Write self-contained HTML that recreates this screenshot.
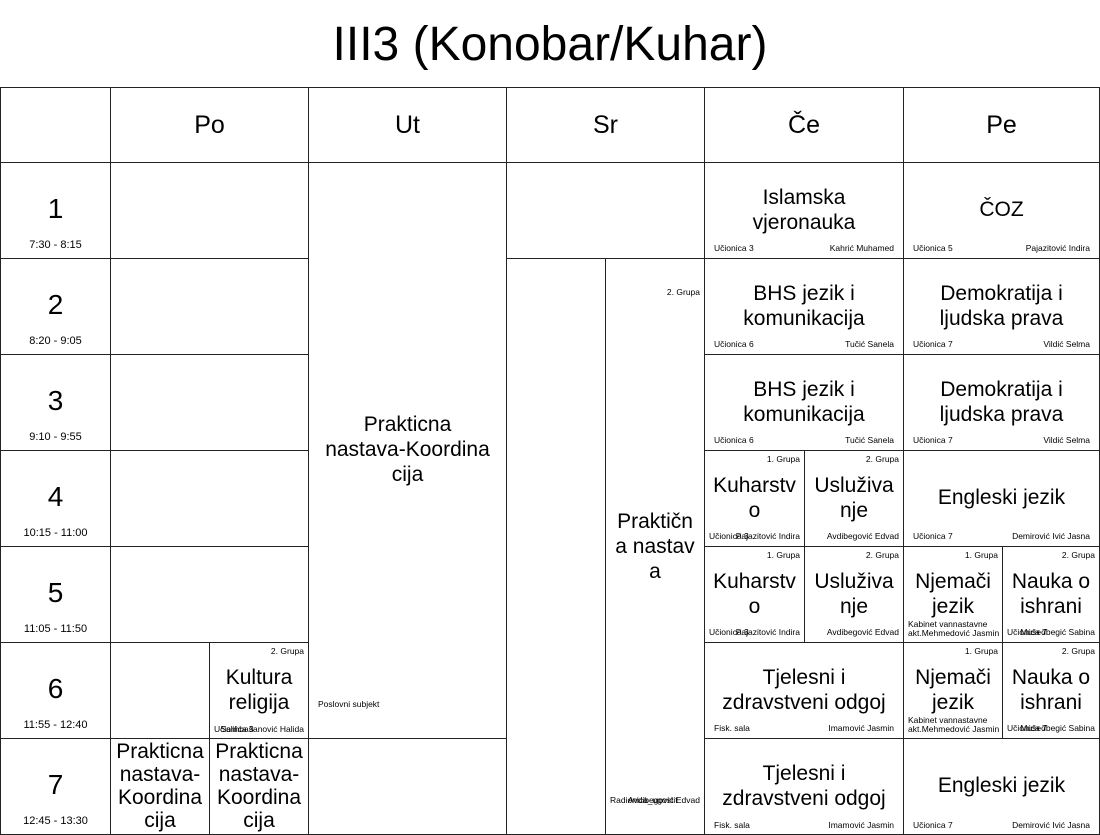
<!DOCTYPE html>
<html><head><meta charset="utf-8"><style>
body{margin:0;width:1100px;height:832px;overflow:hidden;background:#fff;font-family:"Liberation Sans",sans-serif;color:#000;position:relative}
.t{position:absolute;left:0;top:16px;width:1100px;text-align:center;font-size:48px;line-height:58px}
.c{position:absolute;border:1px solid #222;box-sizing:border-box;background:#fff}
.m{position:absolute;left:-5px;right:-5px;text-align:center;font-size:21px;line-height:25px}
.h{position:absolute;left:0;right:0;top:0;bottom:0;display:flex;align-items:center;justify-content:center;font-size:25px}
.s{position:absolute;font-size:8.5px;line-height:9px;white-space:nowrap}
.n{position:absolute;left:0;right:0;text-align:center;font-size:28px;top:30px}
.tm{position:absolute;left:0;right:0;text-align:center;font-size:11px;bottom:7px}
</style></head><body>
<div class="t">III3 (Konobar/Kuhar)</div>

<div class="c" style="left:0;top:87px;width:111px;height:76px"></div>
<div class="c" style="left:110px;top:87px;width:199px;height:76px"><div class="h">Po</div></div>
<div class="c" style="left:308px;top:87px;width:199px;height:76px"><div class="h">Ut</div></div>
<div class="c" style="left:506px;top:87px;width:199px;height:76px"><div class="h">Sr</div></div>
<div class="c" style="left:704px;top:87px;width:200px;height:76px"><div class="h">Če</div></div>
<div class="c" style="left:903px;top:87px;width:197px;height:76px"><div class="h">Pe</div></div>

<div class="c" style="left:0;top:162px;width:111px;height:97px"><div class="n">1</div><div class="tm">7:30 - 8:15</div></div>
<div class="c" style="left:0;top:258px;width:111px;height:97px"><div class="n">2</div><div class="tm">8:20 - 9:05</div></div>
<div class="c" style="left:0;top:354px;width:111px;height:97px"><div class="n">3</div><div class="tm">9:10 - 9:55</div></div>
<div class="c" style="left:0;top:450px;width:111px;height:97px"><div class="n">4</div><div class="tm">10:15 - 11:00</div></div>
<div class="c" style="left:0;top:546px;width:111px;height:97px"><div class="n">5</div><div class="tm">11:05 - 11:50</div></div>
<div class="c" style="left:0;top:642px;width:111px;height:97px"><div class="n">6</div><div class="tm">11:55 - 12:40</div></div>
<div class="c" style="left:0;top:738px;width:111px;height:97px"><div class="n">7</div><div class="tm">12:45 - 13:30</div></div>

<div class="c" style="left:110px;top:162px;width:199px;height:97px"></div>
<div class="c" style="left:110px;top:258px;width:199px;height:97px"></div>
<div class="c" style="left:110px;top:354px;width:199px;height:97px"></div>
<div class="c" style="left:110px;top:450px;width:199px;height:97px"></div>
<div class="c" style="left:110px;top:546px;width:199px;height:97px"></div>
<div class="c" style="left:110px;top:642px;width:100px;height:97px"></div>
<div class="c" style="left:209px;top:642px;width:100px;height:97px"><div class="s" style="right:4px;top:4px">2. Grupa</div><div class="m" style="top:22px">Kultura<br>religija</div><div class="s" style="left:4px;bottom:4px">Učionica 3</div><div class="s" style="right:4px;bottom:4px">Salihbašanović Halida</div></div>
<div class="c" style="left:110px;top:738px;width:100px;height:97px"><div class="m" style="top:1px;line-height:23px">Prakticna<br>nastava-<br>Koordina<br>cija</div></div>
<div class="c" style="left:209px;top:738px;width:100px;height:97px"><div class="m" style="top:1px;line-height:23px">Prakticna<br>nastava-<br>Koordina<br>cija</div></div>

<div class="c" style="left:308px;top:162px;width:199px;height:577px"><div class="m" style="top:249px">Prakticna<br>nastava-Koordina<br>cija</div><div class="s" style="left:9px;top:537px">Poslovni subjekt</div></div>
<div class="c" style="left:308px;top:738px;width:199px;height:97px"></div>

<div class="c" style="left:506px;top:162px;width:199px;height:97px"></div>
<div class="c" style="left:506px;top:258px;width:100px;height:577px"></div>
<div class="c" style="left:605px;top:258px;width:100px;height:577px"><div class="s" style="right:4px;top:29px">2. Grupa</div><div class="m" style="top:250px">Praktičn<br>a nastav<br>a</div><div class="s" style="left:4px;top:537px">Radionica_ugostit</div><div class="s" style="right:4px;top:537px">Avdibegović Edvad</div></div>

<div class="c" style="left:704px;top:162px;width:200px;height:97px"><div class="m" style="top:22px">Islamska<br>vjeronauka</div><div class="s" style="left:9px;bottom:5px">Učionica 3</div><div class="s" style="right:9px;bottom:5px">Kahrić Muhamed</div></div>
<div class="c" style="left:704px;top:258px;width:200px;height:97px"><div class="m" style="top:22px">BHS jezik i<br>komunikacija</div><div class="s" style="left:9px;bottom:5px">Učionica 6</div><div class="s" style="right:9px;bottom:5px">Tučić Sanela</div></div>
<div class="c" style="left:704px;top:354px;width:200px;height:97px"><div class="m" style="top:22px">BHS jezik i<br>komunikacija</div><div class="s" style="left:9px;bottom:5px">Učionica 6</div><div class="s" style="right:9px;bottom:5px">Tučić Sanela</div></div>
<div class="c" style="left:704px;top:450px;width:101px;height:97px"><div class="s" style="right:4px;top:4px">1. Grupa</div><div class="m" style="top:22px">Kuharstv<br>o</div><div class="s" style="left:4px;bottom:5px">Učionica 3</div><div class="s" style="right:4px;bottom:5px">Pajazitović Indira</div></div>
<div class="c" style="left:804px;top:450px;width:100px;height:97px"><div class="s" style="right:4px;top:4px">2. Grupa</div><div class="m" style="top:22px">Usluživa<br>nje</div><div class="s" style="right:4px;bottom:5px">Avdibegović Edvad</div></div>
<div class="c" style="left:704px;top:546px;width:101px;height:97px"><div class="s" style="right:4px;top:4px">1. Grupa</div><div class="m" style="top:22px">Kuharstv<br>o</div><div class="s" style="left:4px;bottom:5px">Učionica 3</div><div class="s" style="right:4px;bottom:5px">Pajazitović Indira</div></div>
<div class="c" style="left:804px;top:546px;width:100px;height:97px"><div class="s" style="right:4px;top:4px">2. Grupa</div><div class="m" style="top:22px">Usluživa<br>nje</div><div class="s" style="right:4px;bottom:5px">Avdibegović Edvad</div></div>
<div class="c" style="left:704px;top:642px;width:200px;height:97px"><div class="m" style="top:22px">Tjelesni i<br>zdravstveni odgoj</div><div class="s" style="left:9px;bottom:5px">Fisk. sala</div><div class="s" style="right:9px;bottom:5px">Imamović Jasmin</div></div>
<div class="c" style="left:704px;top:738px;width:200px;height:97px"><div class="m" style="top:22px">Tjelesni i<br>zdravstveni odgoj</div><div class="s" style="left:9px;top:82px">Fisk. sala</div><div class="s" style="right:9px;top:82px">Imamović Jasmin</div></div>

<div class="c" style="left:903px;top:162px;width:197px;height:97px"><div class="m" style="top:34px">ČOZ</div><div class="s" style="left:9px;bottom:5px">Učionica 5</div><div class="s" style="right:9px;bottom:5px">Pajazitović Indira</div></div>
<div class="c" style="left:903px;top:258px;width:197px;height:97px"><div class="m" style="top:22px">Demokratija i<br>ljudska prava</div><div class="s" style="left:9px;bottom:5px">Učionica 7</div><div class="s" style="right:9px;bottom:5px">Vildić Selma</div></div>
<div class="c" style="left:903px;top:354px;width:197px;height:97px"><div class="m" style="top:22px">Demokratija i<br>ljudska prava</div><div class="s" style="left:9px;bottom:5px">Učionica 7</div><div class="s" style="right:9px;bottom:5px">Vildić Selma</div></div>
<div class="c" style="left:903px;top:450px;width:197px;height:97px"><div class="m" style="top:34px">Engleski jezik</div><div class="s" style="left:9px;bottom:5px">Učionica 7</div><div class="s" style="right:9px;bottom:5px">Demirović Ivić Jasna</div></div>
<div class="c" style="left:903px;top:546px;width:100px;height:97px"><div class="s" style="right:4px;top:4px">1. Grupa</div><div class="m" style="top:22px">Njemači<br>jezik</div><div class="s" style="left:4px;bottom:4px">Kabinet vannastavne<br>akt.Mehmedović Jasmin</div></div>
<div class="c" style="left:1002px;top:546px;width:98px;height:97px"><div class="s" style="right:4px;top:4px">2. Grupa</div><div class="m" style="top:22px">Nauka o<br>ishrani</div><div class="s" style="left:4px;bottom:5px">Učionica 7</div><div class="s" style="right:4px;bottom:5px">Mušedbegić Sabina</div></div>
<div class="c" style="left:903px;top:642px;width:100px;height:97px"><div class="s" style="right:4px;top:4px">1. Grupa</div><div class="m" style="top:22px">Njemači<br>jezik</div><div class="s" style="left:4px;bottom:4px">Kabinet vannastavne<br>akt.Mehmedović Jasmin</div></div>
<div class="c" style="left:1002px;top:642px;width:98px;height:97px"><div class="s" style="right:4px;top:4px">2. Grupa</div><div class="m" style="top:22px">Nauka o<br>ishrani</div><div class="s" style="left:4px;bottom:5px">Učionica 7</div><div class="s" style="right:4px;bottom:5px">Mušedbegić Sabina</div></div>
<div class="c" style="left:903px;top:738px;width:197px;height:97px"><div class="m" style="top:34px">Engleski jezik</div><div class="s" style="left:9px;top:82px">Učionica 7</div><div class="s" style="right:9px;top:82px">Demirović Ivić Jasna</div></div>
</body></html>
